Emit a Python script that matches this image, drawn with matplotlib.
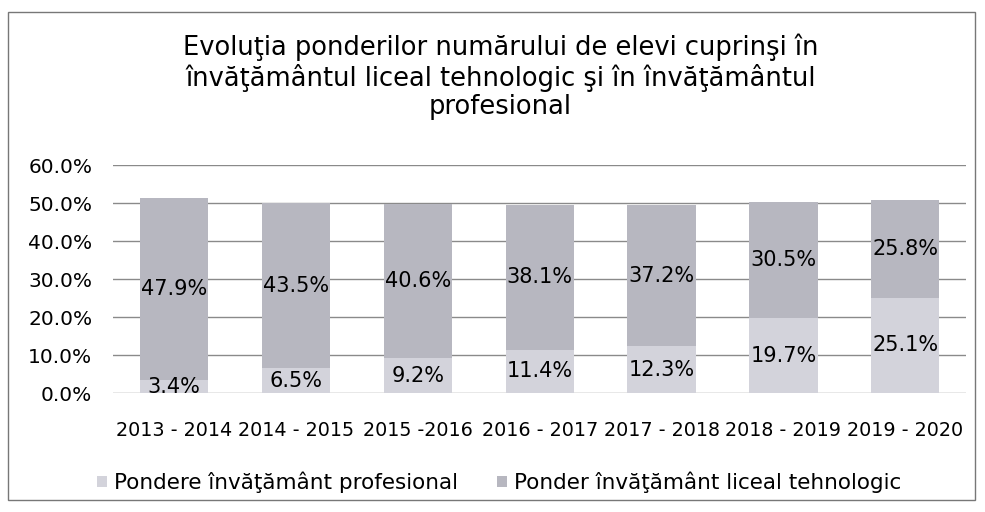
import numpy as np
import matplotlib.pyplot as plt
from matplotlib.patches import Rectangle

years = ['2013 - 2014', '2014 - 2015', '2015 -2016', '2016 - 2017',
         '2017 - 2018', '2018 - 2019', '2019 - 2020']
profesional = [3.4, 6.5, 9.2, 11.4, 12.3, 19.7, 25.1]
liceal = [47.9, 43.5, 40.6, 38.1, 37.2, 30.5, 25.8]

plt.rcParams['font.family'] = ['DejaVu Sans']

fig = plt.figure(figsize=(9.85, 5.12), dpi=100)
ax = fig.add_axes([0.1147, 0.2324, 0.8663, 0.4453])

x = np.arange(len(years))
prof = np.array(profesional)
lic = np.array(liceal)
c_prof = '#d3d3db'
c_lic = '#b7b7c0'

ax.bar(x, prof, width=0.56, color=c_prof, zorder=2,
       label='Pondere învăţământ profesional')
ax.bar(x, lic, width=0.56, bottom=prof, color=c_lic, zorder=2,
       label='Ponder învăţământ liceal tehnologic')

for i in range(len(x)):
    ax.text(x[i], prof[i] / 2, f'{prof[i]:.1f}%', ha='center', va='center',
            fontsize=15, zorder=3)
    ax.text(x[i], prof[i] + lic[i] / 2, f'{lic[i]:.1f}%', ha='center',
            va='center', fontsize=15, zorder=3)

ax.set_xlim(-0.5, len(x) - 0.5)
ax.set_ylim(0, 60)
ax.set_yticks(np.arange(0, 61, 10))
ax.set_yticklabels([f'{v:.1f}%' for v in np.arange(0, 61, 10)], fontsize=14.5)
ax.set_xticks(x)
ax.set_xticklabels(years, fontsize=13.8)
ax.tick_params(length=0)
ax.tick_params(axis='x', pad=20)
ax.tick_params(axis='y', pad=15)
ax.grid(axis='y', color='#8a8a8a', linewidth=1, zorder=0)
for s in ax.spines.values():
    s.set_visible(False)

fig.suptitle('Evoluţia ponderilor numărului de elevi cuprinşi în\n'
             'învăţământul liceal tehnologic şi în învăţământul\nprofesional',
             x=0.508, y=0.935, fontsize=18.5, linespacing=1.13, va='top')

fig.legend(loc='center', bbox_to_anchor=(0.507, 0.058), ncol=2, frameon=False,
           fontsize=15.5, handlelength=0.45, handleheight=0.45, handletextpad=0.35,
           columnspacing=1.8)

fig.patches.append(Rectangle((8 / 985, 12 / 512), 967 / 985, 488 / 512,
                             transform=fig.transFigure, fill=False,
                             edgecolor='#777777', linewidth=1))

fig.savefig('out.png', dpi=100)
